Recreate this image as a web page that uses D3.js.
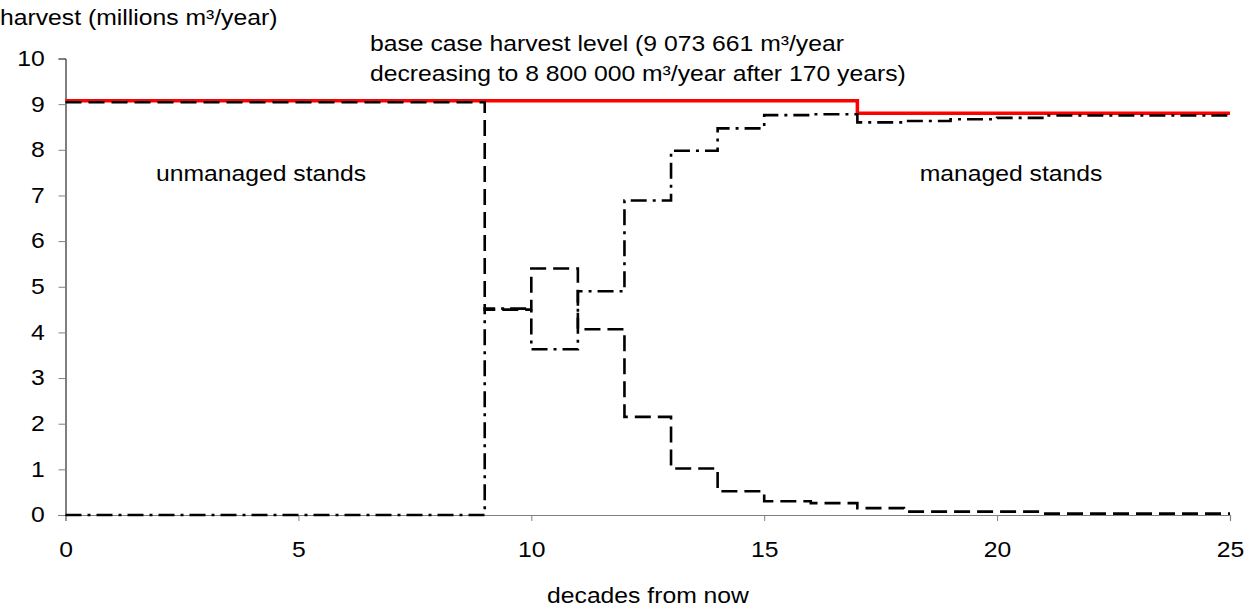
<!DOCTYPE html>
<html>
<head>
<meta charset="utf-8">
<script src="https://cdn.jsdelivr.net/npm/d3@7"></script>
<style>
  html, body { margin: 0; padding: 0; background: #fff; }
  svg { display: block; font-family: "Liberation Sans", Arial, sans-serif; }
</style>
</head>
<body>
<svg id="chart" width="1250" height="607"></svg>
<script>
// Harvest per decade (millions m³/year), one value per decade 0..24
const decades = d3.range(0, 25);
const unmanagedHarvest = [
  9.04, 9.04, 9.04, 9.04, 9.04, 9.04, 9.04, 9.04, 9.04,
  4.50, 5.40, 4.07, 2.15, 1.02, 0.52, 0.30, 0.26, 0.15,
  0.075, 0.075, 0.075, 0.03, 0.03, 0.03, 0.03
];
const managedHarvest = [
  0, 0, 0, 0, 0, 0, 0, 0, 0,
  4.52, 3.63, 4.90, 6.89, 7.98, 8.47, 8.76, 8.78, 8.60,
  8.63, 8.67, 8.70, 8.75, 8.75, 8.75, 8.75
];
const baseCaseHarvest = [
  9.073661, 9.073661, 9.073661, 9.073661, 9.073661, 9.073661, 9.073661, 9.073661, 9.073661,
  9.073661, 9.073661, 9.073661, 9.073661, 9.073661, 9.073661, 9.073661, 9.073661,
  8.8, 8.8, 8.8, 8.8, 8.8, 8.8, 8.8, 8.8
];
const xTicks = [0, 5, 10, 15, 20, 25];
const yTicks = [0, 1, 2, 3, 4, 5, 6, 7, 8, 9, 10];

const FONT = 21.5;   // text size
const WIDEN = 1.15;  // horizontal widening of all text

const svg = d3.select("#chart");
const x = d3.scaleLinear().domain([0, 25]).range([65.5, 1230]);
const y = d3.scaleLinear().domain([0, 10]).range([515, 58.5]);

// step series: each decade holds its value until the next decade
function stepPoints(values) {
  const pts = decades.map(d => [d, values[d]]);
  pts.push([25, values[values.length - 1]]);
  return pts;
}
const stepLine = d3.line()
  .x(d => x(d[0]))
  .y(d => y(d[1]))
  .curve(d3.curveStepAfter);

// axes
const xAxis = svg.append("g")
  .attr("transform", `translate(0,${y(0)})`)
  .call(d3.axisBottom(x).tickValues(xTicks).tickSize(6).tickPadding(21).tickFormat(d3.format("d")));
xAxis.select(".domain").attr("stroke", "#808080").attr("stroke-width", 1.2);
xAxis.selectAll(".tick line").attr("stroke", "#808080");
xAxis.selectAll(".tick text")
  .attr("font-size", FONT).attr("fill", "#000")
  .attr("transform", `scale(${WIDEN},1)`);

const yAxis = svg.append("g")
  .attr("transform", `translate(${x(0)},0)`)
  .call(d3.axisLeft(y).tickValues(yTicks).tickSize(7).tickPadding(11).tickFormat(d3.format("d")));
yAxis.select(".domain").attr("stroke", "#000").attr("stroke-width", 1);
yAxis.selectAll(".tick line").attr("stroke", "#808080");
yAxis.selectAll(".tick text")
  .attr("font-size", FONT).attr("fill", "#000")
  .attr("transform", `scale(${WIDEN},1)`);

// base case harvest level
svg.append("path")
  .attr("d", stepLine(stepPoints(baseCaseHarvest)))
  .attr("fill", "none")
  .attr("stroke", "#ff0000")
  .attr("stroke-width", 3.5);

// unmanaged stands (dashed)
svg.append("path")
  .attr("d", stepLine(stepPoints(unmanagedHarvest)))
  .attr("fill", "none")
  .attr("stroke", "#000")
  .attr("stroke-width", 2.6)
  .attr("stroke-dasharray", "16,7");

// managed stands (dash-dot)
svg.append("path")
  .attr("d", stepLine(stepPoints(managedHarvest)))
  .attr("fill", "none")
  .attr("stroke", "#000")
  .attr("stroke-width", 2.6)
  .attr("stroke-dasharray", "16,6,3,6");

// text labels
const txt = (s, tx, ty, anchor = "start") => svg.append("g")
  .attr("transform", `translate(${tx},${ty}) scale(${WIDEN},1)`)
  .append("text")
  .attr("text-anchor", anchor)
  .attr("font-size", FONT)
  .attr("fill", "#000")
  .text(s);

txt("harvest (millions m³/year)", 0, 25);
txt("base case harvest level (9 073 661 m³/year", 370, 51);
txt("decreasing to 8 800 000 m³/year after 170 years)", 370, 81);
txt("unmanaged stands", 261, 181, "middle");
txt("managed stands", 1011, 181, "middle");
txt("decades from now", 648, 603, "middle");
</script>
</body>
</html>
